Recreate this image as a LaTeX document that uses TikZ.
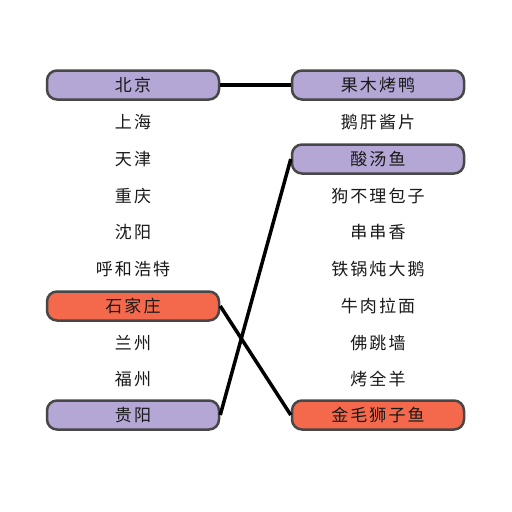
\documentclass[tikz,border=0pt]{standalone}
\usepackage{fontspec}
\setmainfont{Noto Sans CJK SC}[LetterSpace=12]
\begin{document}
\begin{tikzpicture}[x=1pt,y=-1pt,
  item/.style={minimum width=172pt,minimum height=29pt,inner sep=0pt,font=\fontsize{17}{19}\selectfont,text=black!90},
  sel/.style={item,draw=black!72,line width=2.5pt,rounded corners=10pt},
  link/.style={line width=3.5pt,black}]
\useasboundingbox (0,0) rectangle (512,512);
\fill[white] (0,0) rectangle (512,512);
\definecolor{pp}{HTML}{B4A7D6}
\definecolor{rr}{HTML}{F4694C}
\node[sel,fill=pp] (l1) at (133,85) {北京};
\node[item] (l2) at (133,122) {上海};
\node[item] (l3) at (133,159) {天津};
\node[item] (l4) at (133,196) {重庆};
\node[item] (l5) at (133,232) {沈阳};
\node[item] (l6) at (133,269) {呼和浩特};
\node[sel,fill=rr] (l7) at (133,306) {石家庄};
\node[item] (l8) at (133,343) {兰州};
\node[item] (l9) at (133,379) {福州};
\node[sel,fill=pp] (l10) at (133,415) {贵阳};
\node[sel,fill=pp] (r1) at (378,85) {果木烤鸭};
\node[item] (r2) at (378,122) {鹅肝酱片};
\node[sel,fill=pp] (r3) at (378,159) {酸汤鱼};
\node[item] (r4) at (378,196) {狗不理包子};
\node[item] (r5) at (378,232) {串串香};
\node[item] (r6) at (378,269) {铁锅炖大鹅};
\node[item] (r7) at (378,306) {牛肉拉面};
\node[item] (r8) at (378,343) {佛跳墙};
\node[item] (r9) at (378,379) {烤全羊};
\node[sel,fill=rr] (r10) at (378,415) {金毛狮子鱼};
\draw[link] (l1.east) -- (r1.west);
\draw[link] (l10.east) -- (r3.west);
\draw[link] (l7.east) -- (r10.west);
\end{tikzpicture}
\end{document}
